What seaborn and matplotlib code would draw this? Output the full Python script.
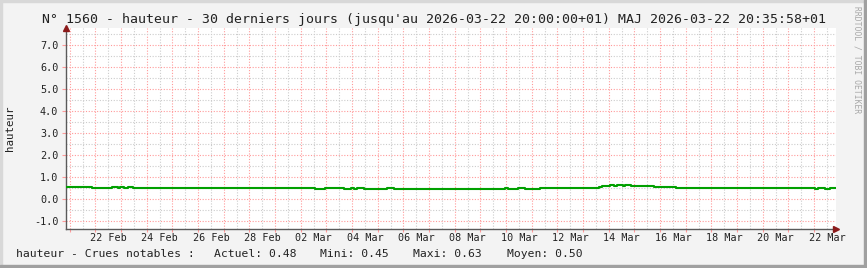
import matplotlib
matplotlib.use("Agg")
import matplotlib.pyplot as plt
import matplotlib.dates as mdates
import matplotlib.transforms as mtransforms
import seaborn as sns
import pandas as pd
from matplotlib.patches import Rectangle

# ---- data (step series: value holds from each time until the next) ----
change_times = [
    "2026-02-20 20:00", "2026-02-21 21:00", "2026-02-22 15:55", "2026-02-22 20:40",
    "2026-02-22 23:25", "2026-02-23 02:15", "2026-02-23 06:00", "2026-02-23 11:35",
    "2026-03-02 13:45", "2026-03-02 23:05", "2026-03-03 16:00", "2026-03-03 22:30",
    "2026-03-04 01:20", "2026-03-04 05:00", "2026-03-04 11:35", "2026-03-05 09:00",
    "2026-03-05 15:35", "2026-03-09 23:25", "2026-03-10 02:10", "2026-03-10 11:35",
    "2026-03-10 18:05", "2026-03-11 08:05", "2026-03-13 14:25", "2026-03-13 18:05",
    "2026-03-14 01:35", "2026-03-14 04:25", "2026-03-14 08:05", "2026-03-14 12:50",
    "2026-03-14 15:35", "2026-03-14 20:20", "2026-03-15 17:50", "2026-03-16 14:25",
    "2026-03-22 01:15", "2026-03-22 04:05", "2026-03-22 10:35", "2026-03-22 15:15",
    "2026-03-22 20:00",
]
levels = [
    0.55, 0.48, 0.54, 0.48,
    0.54, 0.48, 0.54, 0.48,
    0.45, 0.48, 0.45, 0.48,
    0.45, 0.48, 0.45, 0.48,
    0.45, 0.48, 0.45, 0.48,
    0.45, 0.48, 0.54, 0.60,
    0.63, 0.60, 0.63, 0.60,
    0.63, 0.60, 0.55, 0.48,
    0.45, 0.48, 0.45, 0.48,
    0.48,
]
label_dates = ["2026-02-22", "2026-02-24", "2026-02-26", "2026-02-28", "2026-03-02",
               "2026-03-04", "2026-03-06", "2026-03-08", "2026-03-10", "2026-03-12",
               "2026-03-14", "2026-03-16", "2026-03-18", "2026-03-20", "2026-03-22"]
range_start = "2026-02-20 20:00"
range_end = "2026-03-22 20:00"
title = ("N° 1560 - hauteur - 30 derniers jours (jusqu'au 2026-03-22 20:00:00+01) "
         "MAJ 2026-03-22 20:35:58+01")
legend_parts = [("hauteur - Crues notables :", 16), ("Actuel: 0.48", 214),
                ("Mini: 0.45", 320), ("Maxi: 0.63", 413), ("Moyen: 0.50", 507)]
y_label = "hauteur"
watermark = "RRDTOOL / TOBI OETIKER"

df = pd.DataFrame({"time": pd.to_datetime(change_times), "value": levels})

W, H = 867, 268
MONO = "DejaVu Sans Mono"
sns.set_theme(style="white")
plt.rcParams["font.family"] = [MONO, "DejaVu Sans"]

fig = plt.figure(figsize=(W / 100, H / 100), dpi=100)
fig.patch.set_facecolor("#f3f3f3")

left_px, right_px, top_px, bot_px = 65.5, 835.5, 28, 229
ax = fig.add_axes([left_px / W, 1 - bot_px / H, (right_px - left_px) / W, (bot_px - top_px) / H])
ax.set_facecolor("white")

sns.lineplot(data=df, x="time", y="value", drawstyle="steps-post", color="#00a000",
             linewidth=1.5, ax=ax, zorder=5)

ax.set_xlim(pd.Timestamp(range_start), pd.Timestamp(range_end))
ax.set_ylim(-1.38, 7.79)

# grids
ax.xaxis.set_major_locator(mdates.DayLocator())
ax.xaxis.set_minor_locator(mdates.HourLocator(byhour=[12]))
ax.xaxis.set_major_formatter(plt.NullFormatter())
ax.yaxis.set_major_locator(matplotlib.ticker.MultipleLocator(1.0))
ax.yaxis.set_minor_locator(matplotlib.ticker.MultipleLocator(0.5))
ax.yaxis.set_major_formatter(matplotlib.ticker.FormatStrFormatter("%.1f"))

red_grid = "#ff9a9a"
gray_grid = "#cccccc"
ax.grid(which="major", color=red_grid, linestyle=(0, (1, 1.5)), linewidth=0.8)
ax.grid(which="minor", color=gray_grid, linestyle=(0, (1, 1.5)), linewidth=0.8)
ax.set_axisbelow(True)

ax.tick_params(axis="y", which="major", length=3, color=red_grid, width=0.8,
               labelsize=7.3, labelcolor="#222222", pad=2.2, left=True)
ax.tick_params(axis="y", which="minor", length=0)
ax.tick_params(axis="x", which="major", length=2.5, color=red_grid, width=0.8, bottom=True)
ax.tick_params(axis="x", which="minor", length=0)
for lab in ax.get_yticklabels():
    lab.set_family(MONO)

for s in ["top", "right"]:
    ax.spines[s].set_visible(False)
for s in ["left", "bottom"]:
    ax.spines[s].set_color("#5a5a5a")
    ax.spines[s].set_linewidth(1.0)

# axis arrows
ax.plot([1.0], [0.0], marker=">", color="#8b1a1a", markersize=4.5, transform=ax.transAxes,
        clip_on=False, zorder=10)
ax.plot([0.0], [1.0], marker="^", color="#8b1a1a", markersize=4.5, transform=ax.transAxes,
        clip_on=False, zorder=10)

# x labels at noon of the label days
trans = mtransforms.blended_transform_factory(ax.transData, fig.transFigure)
for d in label_dates:
    t = pd.Timestamp(d) + pd.Timedelta(hours=12)
    lbl = t.strftime("%d %b")
    ax.text(mdates.date2num(t), 1 - 238 / H, lbl, transform=trans, ha="center", va="center",
            fontsize=7.3, family=MONO, color="#222222")

ax.set_xlabel("")
ax.set_ylabel("")
fig.text(10.5 / W, 1 - 128 / H, y_label, rotation=90, ha="center", va="center",
         fontsize=7.8, family=MONO, color="#222222")

fig.text(0.5, 1 - 19 / H, title, ha="center", va="center", fontsize=9.5, family=MONO,
         color="#222222")

for txt, xpx in legend_parts:
    fig.text(xpx / W, 1 - 254 / H, txt, ha="left", va="center", fontsize=8.2, family=MONO,
             color="#222222")

fig.text(857 / W, 1 - 60 / H, watermark, rotation=270, ha="center", va="center",
         fontsize=5.8, family=MONO, color="#a8a8a8")

# 3D-like frame
fig.patches.append(Rectangle((0, 1 - 2 / H), 1, 2 / H, transform=fig.transFigure,
                             color="#d8d8d8", zorder=0))
fig.patches.append(Rectangle((0, 0), 2 / W, 1, transform=fig.transFigure,
                             color="#d8d8d8", zorder=0))
fig.patches.append(Rectangle((0, 0), 1, 3 / H, transform=fig.transFigure,
                             color="#a0a0a0", zorder=0))
fig.patches.append(Rectangle((1 - 3 / W, 0), 3 / W, 1, transform=fig.transFigure,
                             color="#a0a0a0", zorder=0))

fig.savefig("out.png", dpi=100, facecolor=fig.get_facecolor())
